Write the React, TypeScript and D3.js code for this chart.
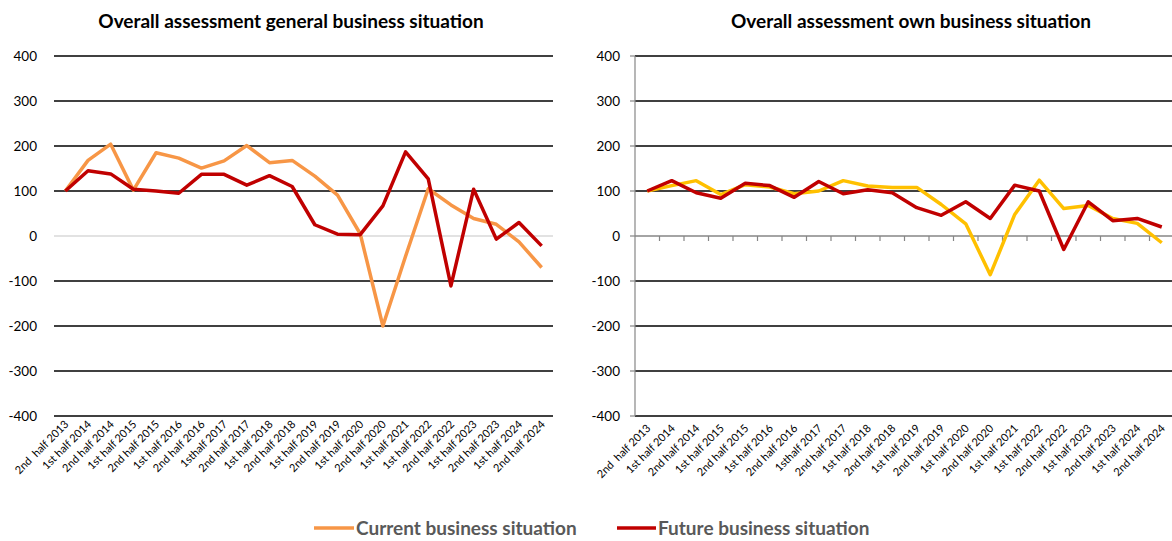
import React from "react";
import * as d3 from "d3";

const categories = [
  "2nd  half 2013", "1st half 2014", "2nd half 2014", "1st half 2015", "2nd half 2015",
  "1st half 2016", "2nd half 2016", "1sthalf 2017", "2nd half 2017", "1st half 2018",
  "2nd half 2018", "1st half 2019", "2nd half 2019", "1st half 2020", "2nd half 2020",
  "1st half 2021", "1st half 2022", "2nd half 2022", "1st half 2023", "2nd half 2023",
  "1st half 2024", "2nd half 2024",
];

const generalCurrent = [100, 168, 204, 102, 185, 173, 151, 167, 201, 163, 168, 133, 91, 5, -200, -45, 105, 69, 39, 26, -13, -70];
const generalFuture = [100, 145, 138, 104, 100, 95, 137, 137, 113, 134, 110, 25, 4, 3, 67, 187, 127, -111, 104, -7, 30, -22];
const ownCurrent = [100, 112, 123, 92, 114, 109, 94, 100, 123, 111, 108, 108, 70, 27, -86, 48, 124, 61, 68, 39, 28, -15];
const ownFuture = [100, 123, 96, 84, 117, 112, 86, 121, 94, 103, 96, 63, 46, 76, 39, 113, 100, -30, 76, 34, 39, 20];

const yTicks = [400, 300, 200, 100, 0, -100, -200, -300, -400];

const FONT = "Lato, 'Open Sans', sans-serif";
const ORANGE = "#F79646";
const GOLD = "#FFC000";
const RED = "#C00000";

type PanelProps = {
  title: string;
  titleX: number;
  x0: number;
  x1: number;
  current: number[];
  future: number[];
  currentColor: string;
  axisStyle: "general" | "own";
};

function Panel({ title, titleX, x0, x1, current, future, currentColor, axisStyle }: PanelProps) {
  const x = d3.scaleBand<string>().domain(categories).range([x0, x1]).padding(0);
  const y = d3.scaleLinear().domain([-400, 400]).range([416, 56]);
  const cx = (i: number) => (x(categories[i]) as number) + x.bandwidth() / 2;
  const line = d3
    .line<number>()
    .x((_, i) => cx(i))
    .y((d) => y(d));
  const labelY = axisStyle === "general" ? 425 : 429;
  return (
    <g>
      <text x={titleX} y={27.5} textAnchor="middle" fontFamily={FONT} fontWeight="bold" fontSize={19} fill="#000">
        {title}
      </text>
      {yTicks.map((t) => {
        const isZero = t === 0;
        let stroke = "#000";
        if (isZero) stroke = axisStyle === "general" ? "#D9D9D9" : "#868686";
        return (
          <g key={t}>
            <line x1={x0} x2={x1} y1={y(t)} y2={y(t)} stroke={stroke} strokeWidth={isZero ? 1.5 : 1.3} />
            <text
              x={x0 - (axisStyle === "general" ? 17 : 15)}
              y={y(t)}
              dy="0.35em"
              textAnchor="end"
              fontFamily={FONT}
              fontSize={13.5}
              fill="#000"
            >
              {t}
            </text>
          </g>
        );
      })}
      {axisStyle === "own" && (
        <g stroke="#868686" strokeWidth={1.2}>
          <line x1={x0} x2={x0} y1={y(400)} y2={y(-400)} />
          {yTicks.map((t) => (
            <line key={t} x1={x0 - 5} x2={x0} y1={y(t)} y2={y(t)} />
          ))}
          {categories.map((c) => (
            <line key={c} x1={(x(c) as number) + x.bandwidth()} x2={(x(c) as number) + x.bandwidth()} y1={y(0)} y2={y(0) + 5} />
          ))}
        </g>
      )}
      <path d={line(current) || ""} fill="none" stroke={currentColor} strokeWidth={3.5} strokeLinejoin="round" />
      <path d={line(future) || ""} fill="none" stroke={RED} strokeWidth={3.5} strokeLinejoin="round" />
      {categories.map((c, i) => (
        <text
          key={c + i}
          transform={`translate(${cx(i) + 4},${labelY}) rotate(-45)`}
          textAnchor="end"
          fontFamily={FONT}
          fontSize={11}
          fill="#000"
          style={{ whiteSpace: "pre" }}
        >
          {c}
        </text>
      ))}
    </g>
  );
}

export default function App() {
  return (
    <div style={{ position: "absolute", left: 0, top: 0 }}>
      <svg width={1172} height={541} style={{ display: "block", background: "#fff" }}>
        <Panel
          title="Overall assessment general business situation"
          titleX={291}
          x0={54}
          x1={553}
          current={generalCurrent}
          future={generalFuture}
          currentColor={ORANGE}
          axisStyle="general"
        />
        <Panel
          title="Overall assessment own business situation"
          titleX={911}
          x0={635}
          x1={1174}
          current={ownCurrent}
          future={ownFuture}
          currentColor={GOLD}
          axisStyle="own"
        />
        <g fontFamily={FONT} fontWeight="bold" fontSize={19} fill="#595959">
          <line x1={314} x2={354} y1={528} y2={528} stroke={ORANGE} strokeWidth={3.5} />
          <text x={356} y={534.5}>Current business situation</text>
          <line x1={617} x2={656} y1={528} y2={528} stroke={RED} strokeWidth={3.5} />
          <text x={658} y={534.5}>Future business situation</text>
        </g>
      </svg>
    </div>
  );
}
